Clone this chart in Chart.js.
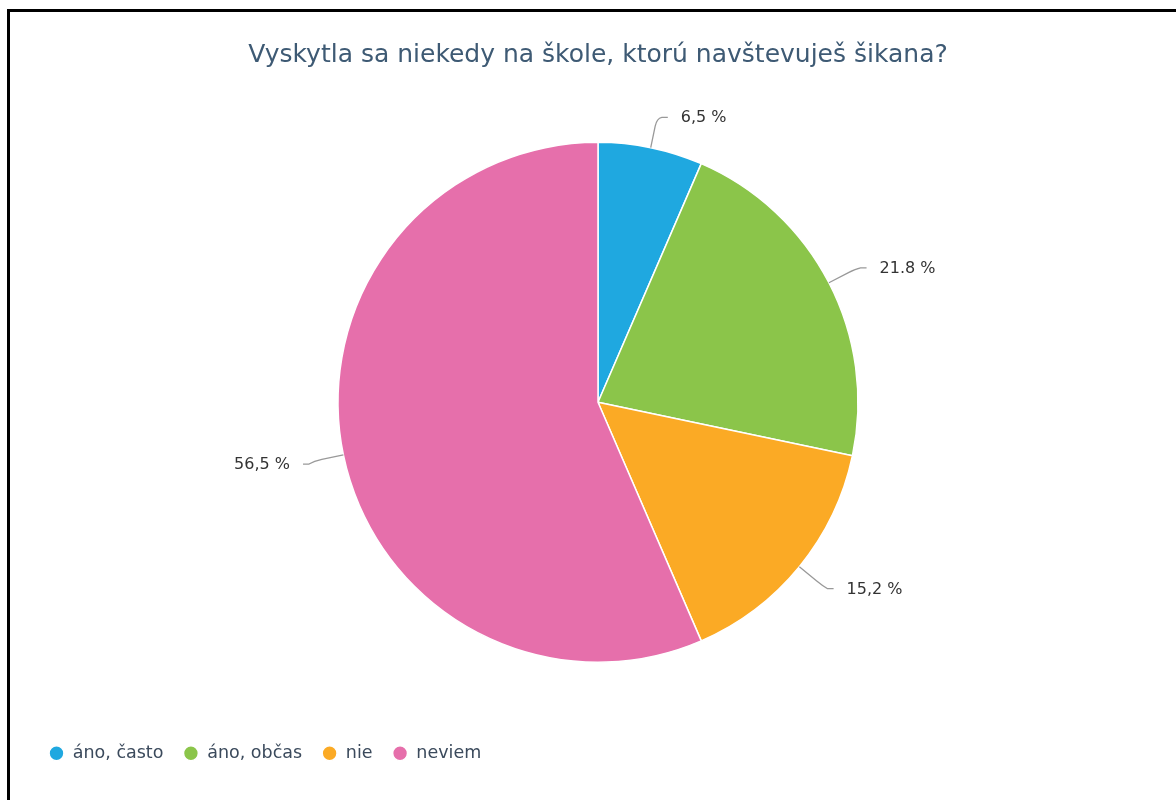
<!DOCTYPE html>
<html>
<head>
<meta charset="utf-8">
<script src="https://cdn.jsdelivr.net/npm/chart.js@4.4.1/dist/chart.umd.min.js"></script>
<style>
    html, body { margin: 0; padding: 0; background: #fff; }
    #wrap { position: relative; width: 1176px; height: 800px; overflow: hidden; }
    #frame {
        position: absolute; left: 7px; top: 9px; right: -10px; bottom: -10px;
        border-top: 3px solid #000; border-left: 3px solid #000;
    }
    canvas { position: absolute; left: 0; top: 0; }
</style>
</head>
<body>
<div id="wrap">
    <div id="frame"></div>
    <canvas id="myChart" width="1176" height="800"></canvas>
</div>
<script>
const titleText = 'Vyskytla sa niekedy na škole, ktorú navštevuješ šikana?';
const categories = ['áno, často', 'áno, občas', 'nie', 'neviem'];
const values = [6.5, 21.8, 15.2, 56.5];
const pctLabels = ['6,5 %', '21.8 %', '15,2 %', '56,5 %'];
const colors = ['#1fa8e0', '#8bc54a', '#fbaa25', '#e66fab'];

// leader lines + percentage labels outside the slices
const leaderLabels = {
    id: 'leaderLabels',
    afterDatasetsDraw(chart) {
        const ctx = chart.ctx;
        const arcs = chart.getDatasetMeta(0).data;
        ctx.save();
        ctx.font = '16px "DejaVu Sans"';
        ctx.textBaseline = 'middle';
        arcs.forEach((arc, i) => {
            const p = arc.getProps(['x', 'y', 'startAngle', 'endAngle', 'outerRadius'], true);
            const mid = (p.startAngle + p.endAngle) / 2;
            const cos = Math.cos(mid), sin = Math.sin(mid);
            const side = cos >= 0 ? 1 : -1;
            const r = p.outerRadius;
            const x0 = p.x + r * cos, y0 = p.y + r * sin;
            const xa = p.x + (r + 22) * cos, ya = p.y + (r + 22) * sin;
            const x1 = p.x + (r + 30) * cos, y1 = p.y + (r + 30) * sin;
            const y2 = y1 + (sin > 0 ? 3 : -1);
            const x2 = x1 + side * 11;

            ctx.strokeStyle = '#999';
            ctx.lineWidth = 1.3;
            ctx.beginPath();
            ctx.moveTo(x0, y0);
            ctx.lineTo(xa, ya);
            ctx.quadraticCurveTo(x1, y1, x1 + side * 5, y2);
            ctx.lineTo(x2, y2);
            ctx.stroke();

            ctx.fillStyle = '#333';
            ctx.textAlign = side > 0 ? 'left' : 'right';
            ctx.fillText(pctLabels[i], x2 + side * 13, y2 + 1);
        });
        ctx.restore();
    }
};

const ctx = document.getElementById('myChart').getContext('2d');
const chart = new Chart(ctx, {
    type: 'pie',
    data: {
        labels: categories,
        datasets: [{
            data: values,
            backgroundColor: colors,
            borderColor: '#fff',
            borderWidth: 1.5,
            radius: 260
        }]
    },
    options: {
        responsive: false,
        animation: false,
        events: [],
        layout: {
            padding: { left: 29, right: 9, top: 0, bottom: 28 }
        },
        plugins: {
            title: {
                display: true,
                text: titleText,
                color: '#3e5a74',
                font: { family: 'DejaVu Sans', size: 25, weight: 'normal' },
                padding: { top: 40, bottom: 10 }
            },
            legend: {
                position: 'bottom',
                align: 'start',
                labels: {
                    usePointStyle: true,
                    pointStyle: 'circle',
                    boxWidth: 15,
                    boxHeight: 10.5,
                    padding: 20,
                    color: '#3b4a5c',
                    font: { family: 'DejaVu Sans', size: 17.5 }
                }
            },
            tooltip: { enabled: false }
        }
    },
    plugins: [leaderLabels]
});
</script>
</body>
</html>
